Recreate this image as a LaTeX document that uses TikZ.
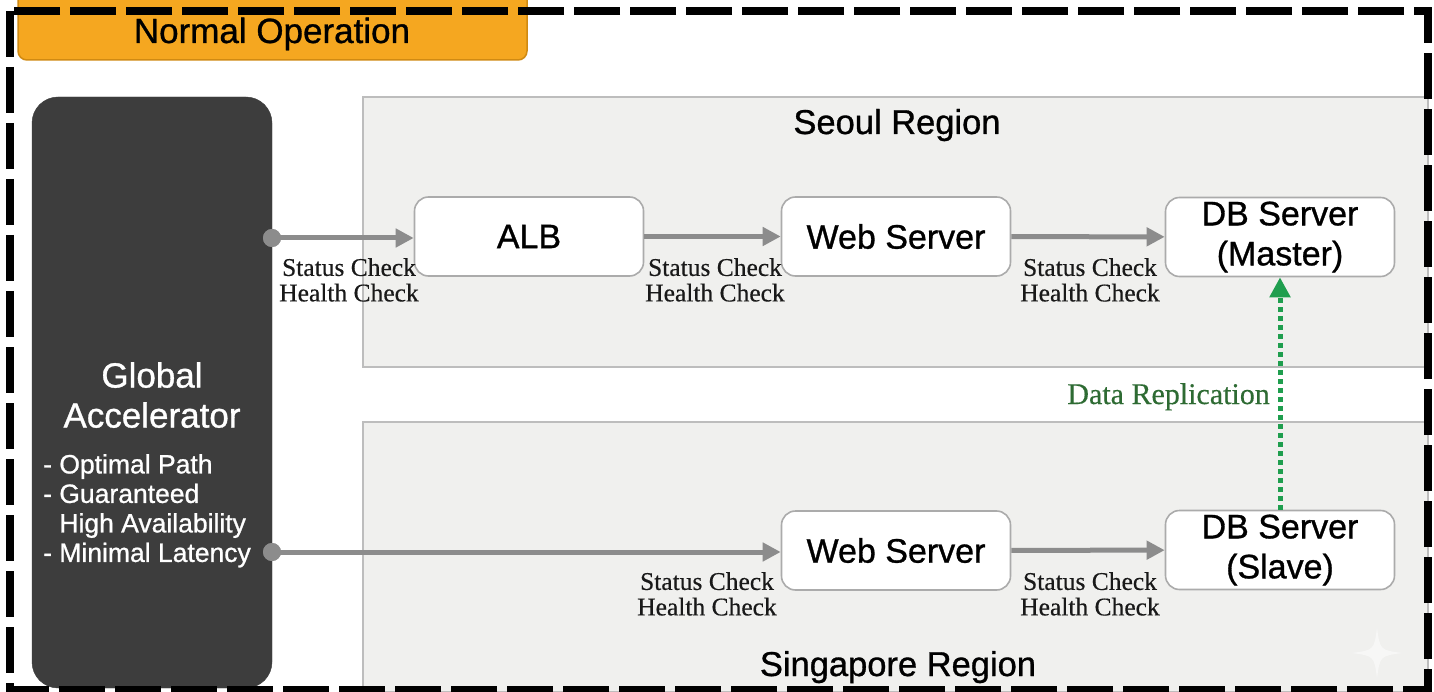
\documentclass[tikz,border=0pt]{standalone}
\usepackage{fontspec}
\setmainfont[FakeBold=0.9]{Liberation Sans}
\newfontfamily\labelserif[FakeBold=0.4]{Liberation Serif}
\usetikzlibrary{arrows.meta}

\definecolor{tabfill}{HTML}{F5A720}
\definecolor{tabdraw}{HTML}{D08A12}
\definecolor{gaboxcol}{HTML}{3D3D3D}
\definecolor{regionfill}{HTML}{F0F0EE}
\definecolor{regiondraw}{HTML}{BDBDBD}
\definecolor{nodedraw}{HTML}{ABABAB}
\definecolor{flowgray}{HTML}{8C8C8C}
\definecolor{replgreen}{HTML}{1F9E4E}
\definecolor{repltext}{HTML}{2E6B33}

\begin{document}
\begin{tikzpicture}[x=1pt,y=-1pt,
  region/.style={draw=regiondraw, fill=regionfill, line width=1.6pt},
  regiontitle/.style={font=\fontsize{34.5}{38}\selectfont, anchor=base, inner sep=0pt},
  server/.style={draw=nodedraw, fill=white, line width=1.6pt, rounded corners=14pt,
    minimum width=229pt, minimum height=79pt, align=center, inner sep=0pt,
    font=\fontsize{34}{39}\selectfont},
  dbserver/.style={server, font=\fontsize{34}{40}\selectfont},
  flow/.style={draw=flowgray, line width=5pt, -{Triangle[length=18pt,width=18pt]}},
  flowdot/.style={circle, fill=flowgray, inner sep=0pt, minimum size=18pt},
  checklabel/.style={font=\labelserif\fontsize{25.5}{25.5}\selectfont, align=center,
    inner sep=0pt, anchor=north, text=black!90},
  repl/.style={draw=replgreen, line width=5pt, dash pattern=on 5pt off 4pt,
    -{Triangle[length=20pt,width=20pt]}},
  gabox/.style={fill=gaboxcol, draw=gaboxcol, rounded corners=26pt,
    minimum width=240pt, minimum height=591pt, inner sep=0pt},
  tabbox/.style={fill=tabfill, draw=tabdraw, line width=1.5pt, rounded corners=9pt},
  frame/.style={draw=black, line width=8pt, dash pattern=on 46pt off 10pt}
]
\useasboundingbox (0,0) rectangle (1434,692);
\fill[white] (0,0) rectangle (1434,692);

% regions
\path[region] (363,97) rectangle (1428,367);
\path[region] (363,422) rectangle (1428,692);
\node[regiontitle] (seoultitle) at (897,134) {Seoul Region};
\node[regiontitle] (sgtitle) at (898,676) {Singapore Region};

% global accelerator
\node[gabox] (ga) at (152,392.5) {};
\node[anchor=north, align=center, inner sep=0pt, text=white,
  font=\fontsize{35}{40}\selectfont] (gatitle) at (152,362) {Global\\Accelerator};
\node[anchor=north west, align=left, inner sep=0pt, text=white,
  font=\fontsize{26.5}{29.5}\selectfont] (galist) at (43,454)
  {- Optimal Path\\- Guaranteed\\\phantom{- }High Availability\\- Minimal Latency};

% tab
\path[tabbox] (18,-20) rectangle (527,60);
\node[anchor=base, inner sep=0pt, font=\fontsize{35}{40}\selectfont] (tabtext) at (272,43) {Normal Operation};

% servers
\node[server] (alb) at (529,236.5) {ALB};
\node[server] (wss) at (896,236.5) {Web Server};
\node[dbserver] (dbm) at (1280,237) {DB Server\\(Master)};
\node[server] (wsg) at (896,550.5) {Web Server};
\node[dbserver] (dbs) at (1280,550) {DB Server\\(Slave)};

% connector start points
\node[flowdot] (d1) at (272,238) {};
\node[flowdot] (d2) at (272,552) {};

% flows
\draw[flow] (d1.center) -- (d1.center -| alb.west);
\draw[flow] (alb) -- (wss);
\draw[flow] (wss) -- (dbm);
\draw[flow] (d2.center) -- (d2.center -| wsg.west);
\draw[flow] (wsg) -- (dbs);
\node[flowdot] at (d1) {};
\node[flowdot] at (d2) {};

% labels
\node[checklabel] (l1) at (349,258) {Status Check\\Health Check};
\node[checklabel] (l2) at (715,258) {Status Check\\Health Check};
\node[checklabel] (l3) at (1090,258) {Status Check\\Health Check};
\node[checklabel] (l4) at (707,572) {Status Check\\Health Check};
\node[checklabel] (l5) at (1090,572) {Status Check\\Health Check};

% replication
\draw[repl] (dbs.north) -- (dbm.south);
\node[anchor=base east, inner sep=0pt, text=repltext,
  font=\labelserif\fontsize{30}{34}\selectfont] (repllabel) at (1270,404) {Data Replication};

% faint sparkle
\fill[white, opacity=0.5] (1377,628) .. controls (1380,650) .. (1402,653)
  .. controls (1380,656) .. (1377,678) .. controls (1374,656) .. (1352,653)
  .. controls (1374,650) .. cycle;

% frame
\draw[frame] (10,11) rectangle (1428,690);
\end{tikzpicture}
\end{document}
